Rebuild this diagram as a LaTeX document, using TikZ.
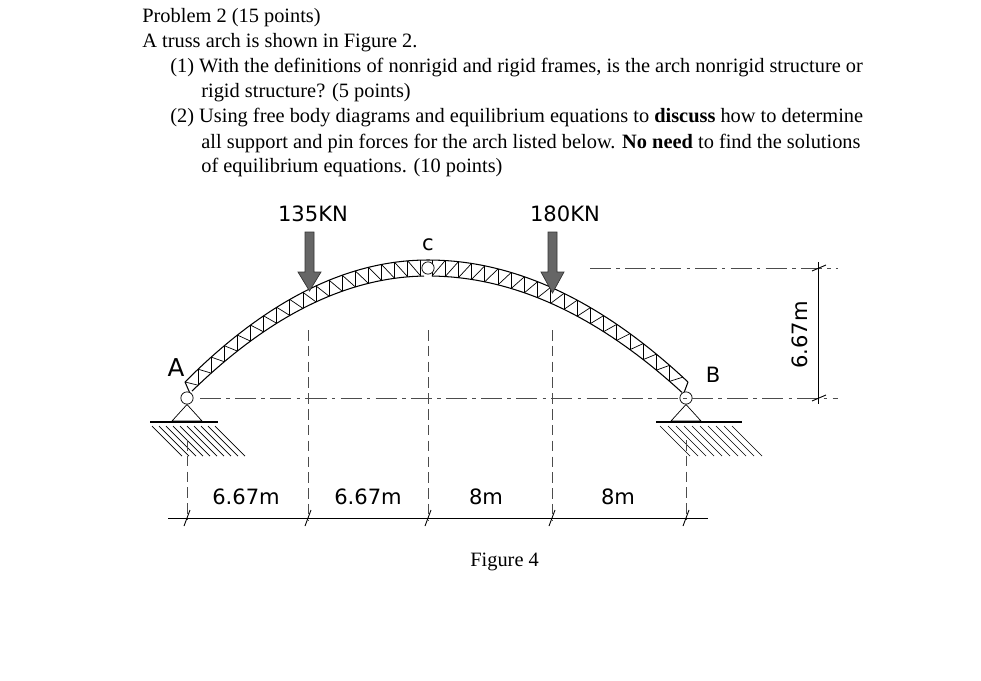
\documentclass[tikz,border=0pt]{standalone}
\usepackage{fontspec}
\setmainfont{Liberation Serif}
\newfontfamily\handfont{DejaVu Sans}
\usetikzlibrary{positioning}
\begin{document}
\begin{tikzpicture}[x=0.02cm,y=-0.02cm,>=latex]%
    \tikzstyle{txt} = [anchor = base west, inner sep = 0pt, font = \fontsize{11.6}{14}\selectfont]
    \tikzstyle{hand} = [inner sep = 0pt, font = \handfont\fontsize{12}{14}\selectfont]
    \tikzstyle{chord} = [line width = 0.6pt]
    \tikzstyle{web} = [line width = 0.4pt]
    \tikzstyle{aux} = [line width = 0.4pt, dash pattern = on 12pt off 3pt on 2pt off 3pt, black!70]
    \tikzstyle{vaux} = [line width = 0.4pt, dash pattern = on 6pt off 3pt, black!70]
    \tikzstyle{dim} = [line width = 0.5pt]
    \tikzstyle{load} = [fill = black!60, draw = black!80, line width = 0.4pt]
    \useasboundingbox (0,0) rectangle (981,680);
    %% Text
    \node [txt] (t1) at (142,22) {Problem 2 (15 points)};
    \node [txt] (t2) at (142,47) {A truss arch is shown in Figure 2.};
    \node [txt] (t3) at (170,72) {(1) With the definitions of nonrigid and rigid frames, is the arch nonrigid structure or};
    \node [txt] (t4) at (201,97) {rigid structure? (5 points)};
    \node [txt] (t5) at (170,122) {(2) Using free body diagrams and equilibrium equations to \textbf{discuss} how to determine};
    \node [txt] (t6) at (201,148) {all support and pin forces for the arch listed below. \textbf{No need} to find the solutions};
    \node [txt] (t7) at (201,172) {of equilibrium equations. (10 points)};
    \node [txt] (fig) at (470,566) {Figure 4};
    %% Arch chords
    \draw [chord] plot [domain=185:428, samples=40] (\x, {260+122*((\x-428)/243)^2});
    \draw [chord] plot [domain=428:688, samples=40] (\x, {260+122*((\x-428)/260)^2});
    \draw [chord] plot [domain=192:424, samples=40] (\x, {276+122*((\x-428)/243)^2});
    \draw [chord] plot [domain=432:682, samples=40] (\x, {276+122*((\x-428)/260)^2});
    \draw [chord] (185,382) -- (192,398);
    \draw [chord] (688,382) -- (682,398);
    %% Web members
    \foreach \i in {0,...,17} {
        \pgfmathsetmacro{\xa}{185+\i*13.1}
        \pgfmathsetmacro{\xb}{185+(\i+1)*13.1}
        \draw [web] (\xa, {260+122*((\xa-428)/243)^2}) -- (\xb, {276+122*((\xb-428)/243)^2});
        \draw [web] (\xb, {260+122*((\xb-428)/243)^2}) -- (\xb, {276+122*((\xb-428)/243)^2});
    }
    \foreach \i in {0,...,18} {
        \pgfmathsetmacro{\xa}{432+\i*13.2}
        \pgfmathsetmacro{\xb}{432+(\i+1)*13.2}
        \draw [web] (\xa, {260+122*((\xa-428)/260)^2}) -- (\xa, {276+122*((\xa-428)/260)^2});
        \draw [web] (\xa, {276+122*((\xa-428)/260)^2}) -- (\xb, {260+122*((\xb-428)/260)^2});
    }
    %% Pins
    \node [circle, draw, fill=white, inner sep=0pt, minimum size=7pt] (C) at (428,268) {};
    \node [circle, draw, fill=white, inner sep=0pt, minimum size=7pt] (A) at (187,398) {};
    \node [circle, draw, fill=white, inner sep=0pt, minimum size=7pt] (B) at (686,398) {};
    \node [hand] (lC) [above = 6pt of C] {c};
    \node [hand, font=\handfont\fontsize{14}{16}\selectfont] (lA) at (176,368) {A};
    \node [hand] (lB) at (713,375) {B};
    %% Supports
    \draw (A.south) -- (172,421) -- (202,421) -- cycle;
    \draw (B.south) -- (671,421) -- (701,421) -- cycle;
    \draw [line width=0.8pt] (150,422) -- (218,422);
    \draw [line width=0.8pt] (656,422) -- (742,422);
    \foreach \h in {0,...,9} {
        \draw [web] ({152+\h*7},426) -- ({152+\h*7+30},456);
        \draw [web] ({660+\h*8},426) -- ({660+\h*8+30},456);
    }
    %% Auxiliary lines
    \draw [aux] (200,398) -- (838,398);
    \draw [aux] (590,268) -- (838,268);
    \foreach \xv in {187,308,428,552,686}
        \draw [vaux] (\xv,{\xv==187 ? 440 : (\xv==686 ? 440 : 330)}) -- (\xv,520);
    %% Loads
    \draw [load] (305,232) -- (314,232) -- (314,272) -- (321,272) -- (309.5,291) -- (298,272) -- (305,272) -- cycle;
    \draw [load] (548,232) -- (557,232) -- (557,272) -- (564,272) -- (552.5,293) -- (541,272) -- (548,272) -- cycle;
    \node [hand] (P1) at (313,214) {135KN};
    \node [hand] (P2) at (565,214) {180KN};
    %% Dimensions
    \coordinate (d0) at (168,518);
    \coordinate (d1) at (708,518);
    \draw [dim] (d0) -- (d1);
    \foreach \xv in {187,308,428,552,686}
        \draw [dim] (\xv-3,526) -- (\xv+3,510);
    \node [hand] (m1) at (246,497) {6.67m};
    \node [hand] (m2) at (368,497) {6.67m};
    \node [hand] (m3) at (486,497) {8m};
    \node [hand] (m4) at (618,497) {8m};
    \coordinate (v0) at (818,262);
    \coordinate (v1) at (818,404);
    \draw [dim] (v0) -- (v1);
    \draw [dim] (812,271) -- (826,265);
    \draw [dim] (812,401) -- (826,395);
    \node [hand, rotate=90] (mh) at (800,335) {6.67m};
\end{tikzpicture}
\end{document}
